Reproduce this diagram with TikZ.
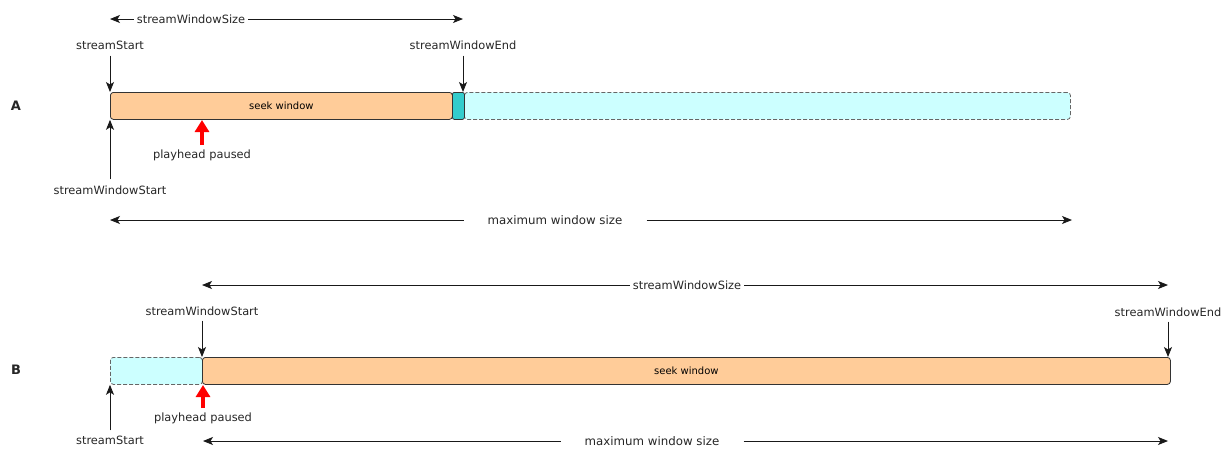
\documentclass[tikz,border=0pt]{standalone}
\usepackage{fontspec}
\setmainfont{DejaVu Sans}
\usetikzlibrary{arrows.meta}
\definecolor{seekfill}{HTML}{FFCC99}
\definecolor{tealfill}{HTML}{33CCCC}
\definecolor{cyanfill}{HTML}{CCFFFF}
\definecolor{edgegray}{HTML}{333333}
\definecolor{dashgray}{HTML}{666666}
\tikzset{
  lbl/.style={font=\fontsize{11.4}{13}\selectfont, inner sep=1pt, text=black!85},
  seekbar/.style={draw=edgegray, fill=seekfill, rounded corners=3pt, line width=0.8pt, anchor=north west, minimum height=27pt, inner sep=0pt, font=\fontsize{10}{12}\selectfont},
  tealbar/.style={draw=edgegray, fill=tealfill, rounded corners=2pt, line width=0.8pt, anchor=north west, minimum height=27pt, minimum width=12pt, inner sep=0pt},
  emptybar/.style={draw=dashgray, fill=cyanfill, dash pattern=on 4pt off 2pt, rounded corners=3pt, line width=0.8pt, anchor=north west, minimum height=27pt, inner sep=0pt},
  arr/.style={-{Stealth[length=10pt,width=8pt,inset=2.5pt]}, line width=0.9pt, black!90},
  redarr/.style={-{Triangle[length=12pt,width=14pt]}, line width=4pt, red},
  maxlbl/.style={font=\fontsize{11.8}{13}\selectfont, inner xsep=24pt, inner ysep=1pt, text=black!85},
  rowlbl/.style={font=\bfseries\fontsize{13}{15}\selectfont, text=black!85},
}
\begin{document}
\begin{tikzpicture}[x=1pt,y=-1pt]
\useasboundingbox (0,0) rectangle (1223,448);
% ---------------- Row A ----------------
\node[rowlbl] (rowA) at (16,106) {A};
\node[emptybar, minimum width=606pt] (emptyA) at (464,92) {};
\node[seekbar, minimum width=342pt] (seekA) at (110,92) {seek window};
\node[tealbar] (tealA) at (452,92) {};
% top size arrow
\node[lbl, inner xsep=3pt] (sizeA) at (191,19) {streamWindowSize};
\coordinate (sizeAl) at (110,19);
\coordinate (sizeAr) at (463,19);
\draw[arr] (sizeA.west) -- (sizeAl);
\draw[arr] (sizeA.east) -- (sizeAr);
% labels
\node[lbl] (startA) at (110,45) {streamStart};
\node[lbl] (endA) at (463,45) {streamWindowEnd};
\node[lbl] (wstartA) at (110,190) {streamWindowStart};
\draw[arr] ([yshift=-5pt]startA.south) -- (startA.south |- seekA.north);
\draw[arr] ([yshift=-5pt]endA.south) -- (endA.south |- tealA.north);
\draw[arr] ([yshift=5pt]wstartA.north) -- (wstartA.north |- seekA.south);
% playhead
\node[lbl] (playA) at (202,155) {playhead paused};
\coordinate (playAtop) at (202,120);
\draw[redarr] (202,145) -- (playAtop);
% max window size
\node[maxlbl] (maxA) at (555,220) {maximum window size};
\coordinate (maxAl) at (110,220);
\coordinate (maxAr) at (1072,220);
\draw[arr] (maxA.west) -- (maxAl);
\draw[arr] (maxA.east) -- (maxAr);
% ---------------- Row B ----------------
\node[rowlbl] (rowB) at (16,370) {B};
\node[emptybar, minimum width=92pt] (emptyB) at (110,357) {};
\node[seekbar, minimum width=968pt] (seekB) at (202,357) {seek window};
% top size arrow
\node[lbl, inner xsep=3pt] (sizeB) at (687,285) {streamWindowSize};
\coordinate (sizeBl) at (202,285);
\coordinate (sizeBr) at (1168,285);
\draw[arr] (sizeB.west) -- (sizeBl);
\draw[arr] (sizeB.east) -- (sizeBr);
% labels
\node[lbl] (wstartB) at (202,311) {streamWindowStart};
\node[lbl] (endB) at (1168,312) {streamWindowEnd};
\node[lbl] (startB) at (110,440) {streamStart};
\draw[arr] ([yshift=-4pt]wstartB.south) -- (wstartB.south |- seekB.north);
\draw[arr] ([yshift=-4pt]endB.south) -- (endB.south |- seekB.north);
\draw[arr] ([yshift=4pt]startB.north) -- (startB.north |- emptyB.south);
% playhead
\node[lbl] (playB) at (203,418) {playhead paused};
\coordinate (playBtop) at (203,385);
\draw[redarr] (203,408) -- (playBtop);
% max window size
\node[maxlbl] (maxB) at (652,441) {maximum window size};
\coordinate (maxBl) at (203,441);
\coordinate (maxBr) at (1168,441);
\draw[arr] (maxB.west) -- (maxBl);
\draw[arr] (maxB.east) -- (maxBr);
\end{tikzpicture}
\end{document}
